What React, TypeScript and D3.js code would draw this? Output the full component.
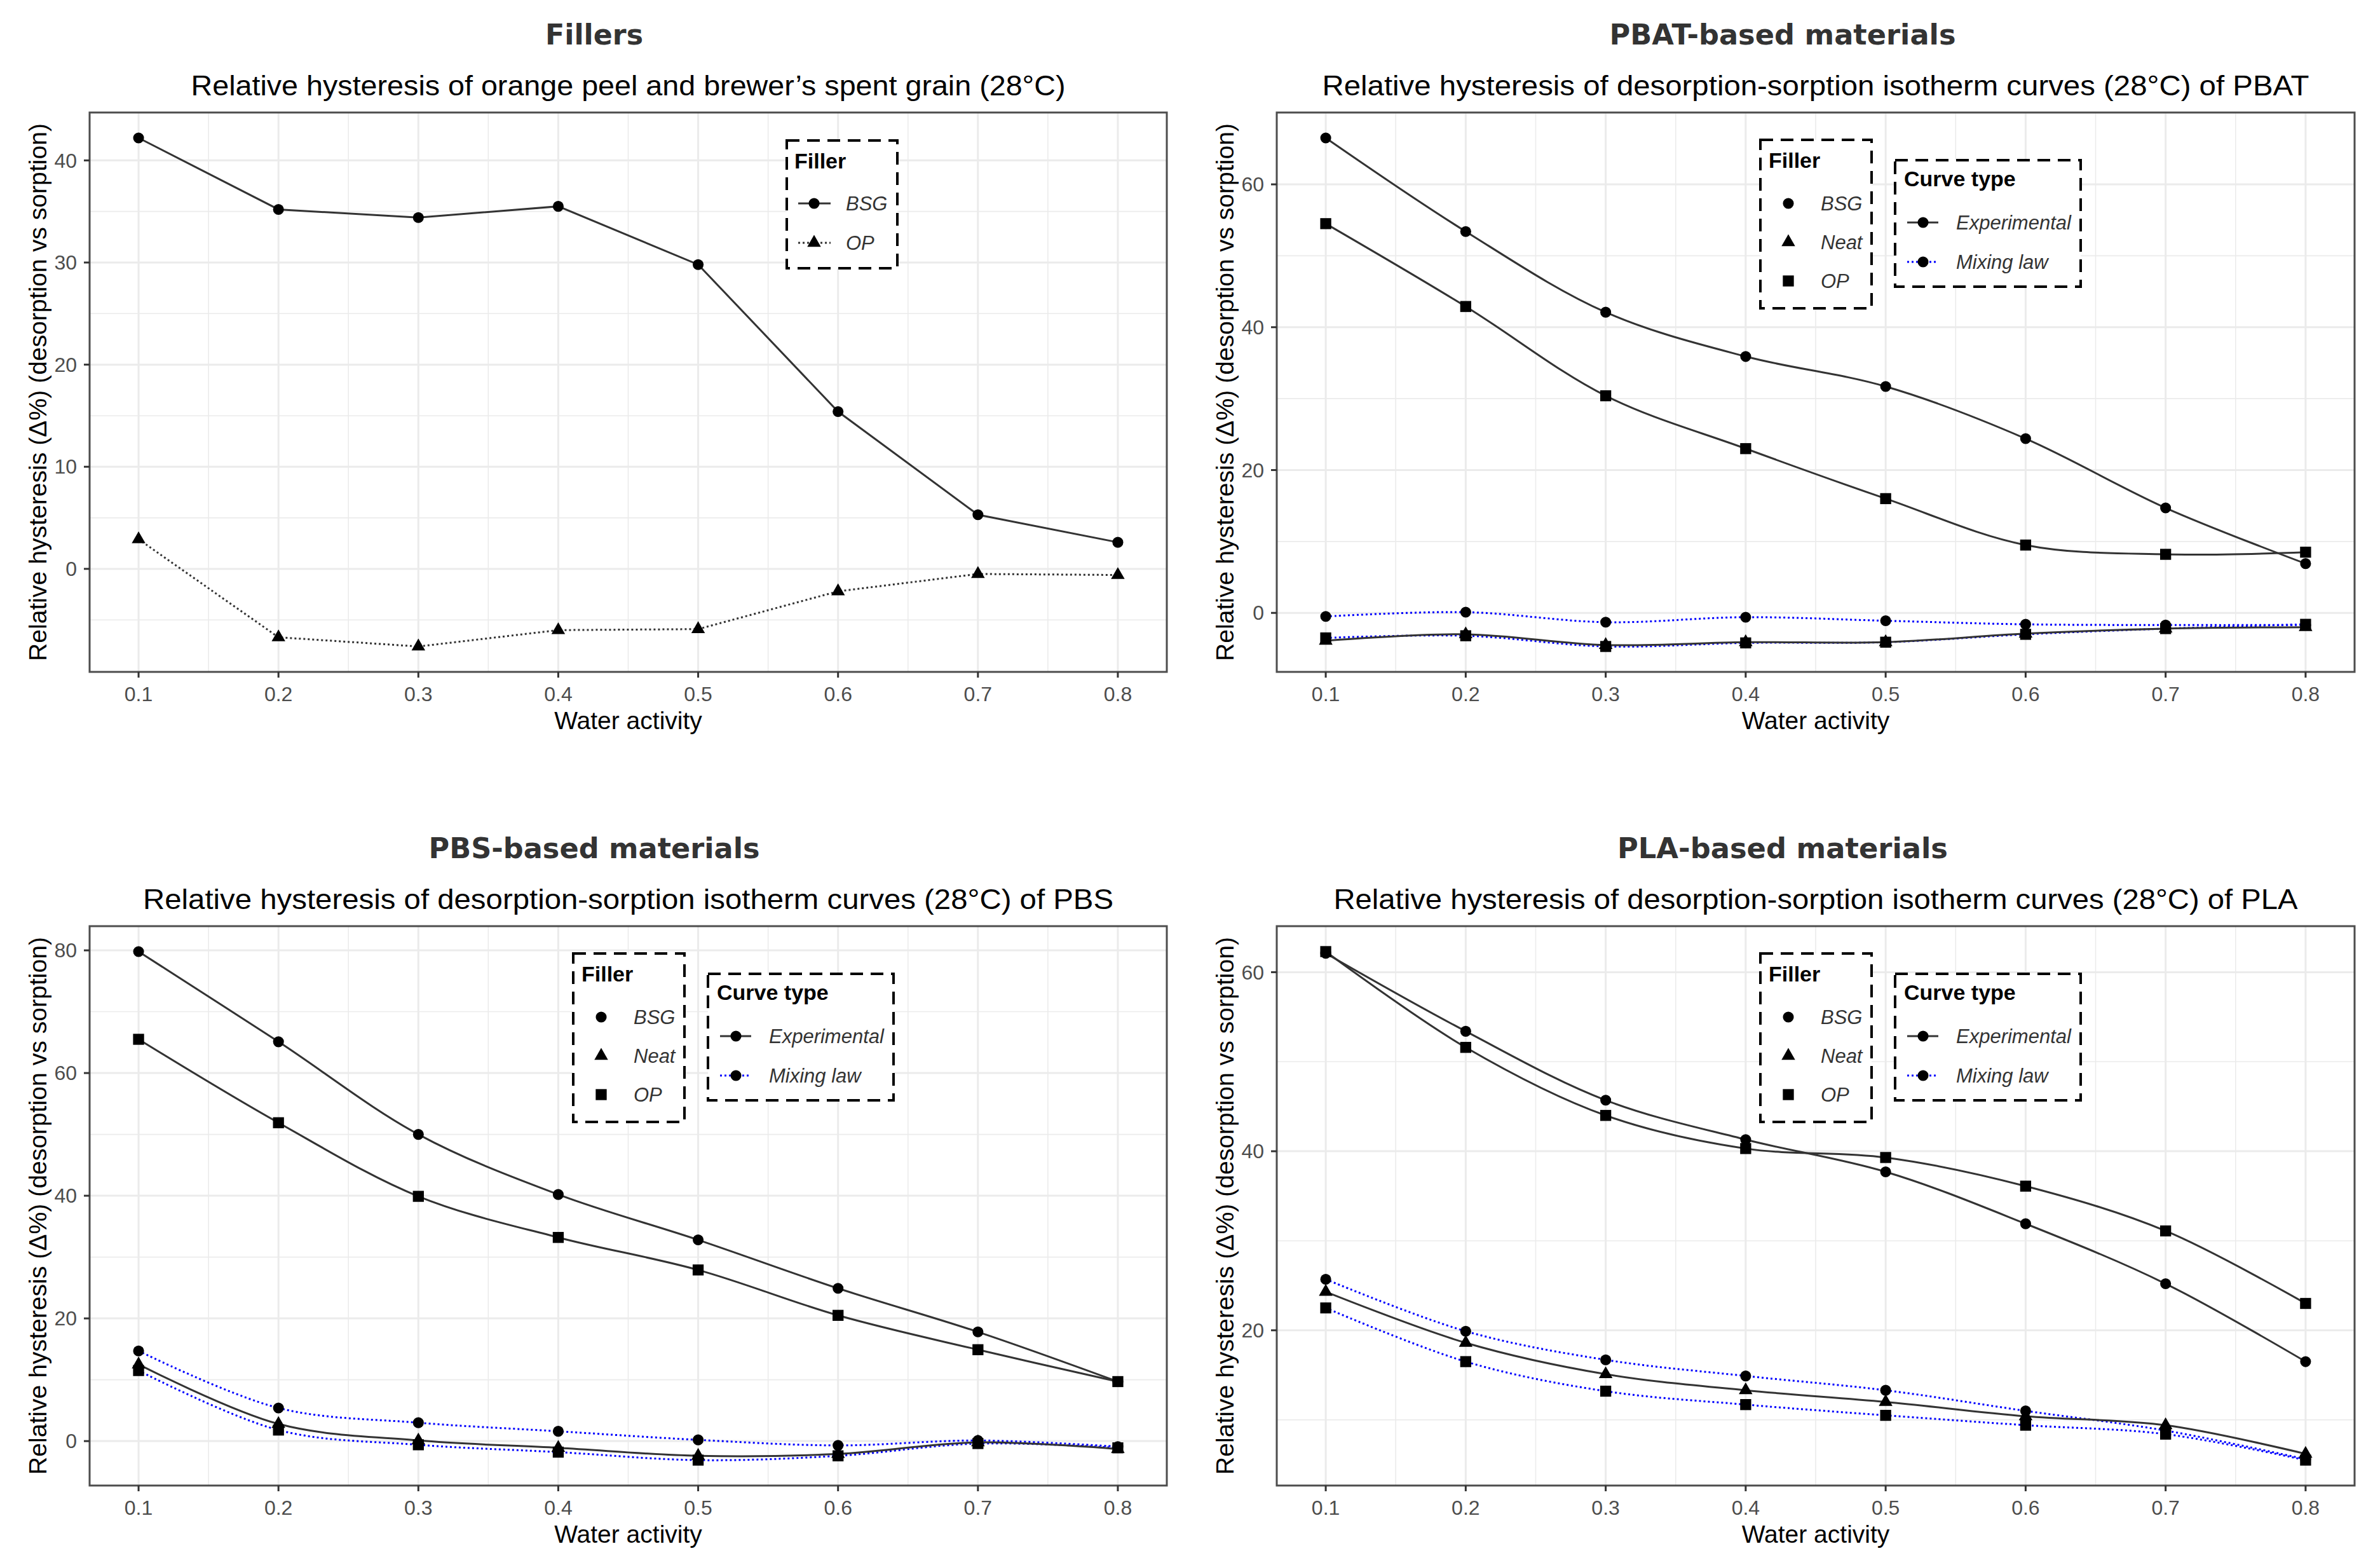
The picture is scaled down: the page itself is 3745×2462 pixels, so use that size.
import React from "react";
import * as d3 from "d3";

const width = 3745;
const height = 2462;

const waterActivity = [0.1, 0.2, 0.3, 0.4, 0.5, 0.6, 0.7, 0.8];

// Fillers (straight lines)
const fillersBSG = [42.2, 35.2, 34.4, 35.5, 29.8, 15.4, 5.3, 2.6];
const fillersOP = [2.9, -6.7, -7.6, -6.0, -5.9, -2.2, -0.5, -0.6];
const fillersTicks = [0, 10, 20, 30, 40];

// PBAT
const pbatBSGExp = [66.5, 53.4, 42.1, 35.9, 31.7, 24.4, 14.7, 6.9];
const pbatOPExp = [54.5, 42.9, 30.4, 23.0, 16.0, 9.5, 8.2, 8.5];
const pbatNeatExp = [-3.9, -3.0, -4.5, -4.1, -4.1, -2.9, -2.2, -2.0];
const pbatBSGMix = [-0.5, 0.1, -1.3, -0.6, -1.1, -1.6, -1.7, -1.7];
const pbatOPMix = [-3.5, -3.2, -4.7, -4.2, -4.1, -3.0, -2.2, -1.6];
const pbatTicks = [0, 20, 40, 60];

// PBS
const pbsBSGExp = [79.8, 65.1, 50.0, 40.2, 32.8, 24.9, 17.8, 9.7];
const pbsOPExp = [65.5, 51.9, 39.9, 33.2, 27.9, 20.5, 14.9, 9.7];
const pbsNeatExp = [12.5, 2.8, 0.1, -1.1, -2.4, -2.1, -0.2, -1.3];
const pbsBSGMix = [14.7, 5.4, 3.0, 1.6, 0.2, -0.7, 0.1, -0.9];
const pbsOPMix = [11.5, 1.8, -0.6, -1.8, -3.1, -2.4, -0.4, -1.1];
const pbsTicks = [0, 20, 40, 60, 80];

// PLA
const plaBSGExp = [62.1, 53.4, 45.7, 41.3, 37.7, 31.9, 25.2, 16.5];
const plaOPExp = [62.3, 51.6, 44.0, 40.3, 39.3, 36.1, 31.1, 23.0];
const plaNeatExp = [24.3, 18.6, 15.1, 13.3, 12.0, 10.4, 9.4, 6.2];
const plaBSGMix = [25.7, 19.9, 16.7, 14.9, 13.3, 11.0, 8.8, 5.6];
const plaOPMix = [22.5, 16.5, 13.2, 11.7, 10.5, 9.4, 8.4, 5.5];
const plaTicks = [20, 40, 60];

const fillerLevels = ["BSG", "Neat", "OP"];
const curveLevels = ["Experimental", "Mixing law"];

const FONT = "'Liberation Sans', Arial, sans-serif";
const TITLE_FONT = "'DejaVu Sans', 'Liberation Sans', sans-serif";

type Series = { filler: string; curve: string; values: number[] };

type PanelCfg = {
  col: number;
  row: number;
  title: string;
  subtitle: string;
  titleWidth: number;
  subtitleWidth: number;
  ticks: number[];
  series: Series[];
  smooth: boolean;
  fillersOnly?: boolean;
};

const shapeOf = (filler: string, fillersOnly?: boolean) => {
  if (filler === "BSG") return d3.symbolCircle;
  if (filler === "OP" && !fillersOnly) return d3.symbolSquare;
  return d3.symbolTriangle;
};
const sizeOf = (shape: d3.SymbolType) =>
  shape === d3.symbolCircle ? 230 : shape === d3.symbolSquare ? 300 : 200;

const symbolPath = (shape: d3.SymbolType) =>
  d3.symbol().type(shape).size(sizeOf(shape))() || "";

const lineStyle = (s: Series, fillersOnly?: boolean) => {
  if (s.curve === "Mixing law")
    return { stroke: "#0000ff", dash: "3,4" };
  if (fillersOnly && s.filler === "OP") return { stroke: "#333333", dash: "3,4" };
  return { stroke: "#333333", dash: undefined };
};

const panels: PanelCfg[] = [
  {
    col: 0,
    row: 0,
    title: "Fillers",
    subtitle: "Relative hysteresis of orange peel and brewer’s spent grain (28°C)",
    titleWidth: 154,
    subtitleWidth: 1376,
    ticks: fillersTicks,
    smooth: false,
    fillersOnly: true,
    series: [
      { filler: "BSG", curve: "Experimental", values: fillersBSG },
      { filler: "OP", curve: "Experimental", values: fillersOP },
    ],
  },
  {
    col: 1,
    row: 0,
    title: "PBAT-based materials",
    subtitle: "Relative hysteresis of desorption-sorption isotherm curves (28°C) of PBAT",
    titleWidth: 545,
    subtitleWidth: 1553,
    ticks: pbatTicks,
    smooth: true,
    series: [
      { filler: "BSG", curve: "Mixing law", values: pbatBSGMix },
      { filler: "OP", curve: "Mixing law", values: pbatOPMix },
      { filler: "BSG", curve: "Experimental", values: pbatBSGExp },
      { filler: "OP", curve: "Experimental", values: pbatOPExp },
      { filler: "Neat", curve: "Experimental", values: pbatNeatExp },
    ],
  },
  {
    col: 0,
    row: 1,
    title: "PBS-based materials",
    subtitle: "Relative hysteresis of desorption-sorption isotherm curves (28°C) of PBS",
    titleWidth: 521,
    subtitleWidth: 1527,
    ticks: pbsTicks,
    smooth: true,
    series: [
      { filler: "BSG", curve: "Mixing law", values: pbsBSGMix },
      { filler: "OP", curve: "Mixing law", values: pbsOPMix },
      { filler: "BSG", curve: "Experimental", values: pbsBSGExp },
      { filler: "OP", curve: "Experimental", values: pbsOPExp },
      { filler: "Neat", curve: "Experimental", values: pbsNeatExp },
    ],
  },
  {
    col: 1,
    row: 1,
    title: "PLA-based materials",
    subtitle: "Relative hysteresis of desorption-sorption isotherm curves (28°C) of PLA",
    titleWidth: 520,
    subtitleWidth: 1517,
    ticks: plaTicks,
    smooth: true,
    series: [
      { filler: "BSG", curve: "Mixing law", values: plaBSGMix },
      { filler: "OP", curve: "Mixing law", values: plaOPMix },
      { filler: "BSG", curve: "Experimental", values: plaBSGExp },
      { filler: "OP", curve: "Experimental", values: plaOPExp },
      { filler: "Neat", curve: "Experimental", values: plaNeatExp },
    ],
  },
];

const DashedBox = ({ x0, y0, x1, y1 }: { x0: number; y0: number; x1: number; y1: number }) => (
  <rect
    x={x0}
    y={y0}
    width={x1 - x0}
    height={y1 - y0}
    fill="white"
    stroke="black"
    strokeWidth={4}
    strokeDasharray="20,12"
  />
);

const Panel = ({ cfg }: { cfg: PanelCfg }) => {
  const left = cfg.col ? 2009 : 141;
  const right = cfg.col ? 3705 : 1836;
  const top = cfg.row ? 1457 : 177;
  const bottom = top + 880;

  const all = cfg.series.flatMap((s) => s.values);
  const [mn, mx] = d3.extent(all) as [number, number];
  const pad = (mx - mn) * 0.05;
  const y = d3.scaleLinear().domain([mn - pad, mx + pad]).range([bottom, top]);

  const [xa, xb] = d3.extent(waterActivity) as [number, number];
  const xpad = (xb - xa) * 0.05;
  const x = d3.scaleLinear().domain([xa - xpad, xb + xpad]).range([left, right]);

  const step = cfg.ticks[1] - cfg.ticks[0];
  const yMinor = [cfg.ticks[0] - step / 2, ...cfg.ticks.map((t) => t + step / 2)].filter(
    (v) => v > y.domain()[0] && v < y.domain()[1]
  );
  const xMinor = [waterActivity[0] - 0.05, ...waterActivity.map((v) => v + 0.05)].filter(
    (v) => v > x.domain()[0] && v < x.domain()[1]
  );

  const line = d3
    .line<number>()
    .x((_, i) => x(waterActivity[i]))
    .y((d) => y(d))
    .curve(cfg.smooth ? d3.curveCatmullRom.alpha(0.5) : d3.curveLinear);

  const cx = (left + right) / 2;
  const cy = (top + bottom) / 2;
  const panelCenter = cfg.col ? 2805 : 935;

  return (
    <g>
      {/* titles */}
      <text
        x={panelCenter}
        y={top - 107}
        textAnchor="middle"
        fontFamily={TITLE_FONT}
        fontWeight="bold"
        fontSize={44}
        fill="#333333"
        textLength={cfg.titleWidth}
        lengthAdjust="spacingAndGlyphs"
      >
        {cfg.title}
      </text>
      <text
        x={cx}
        y={top - 27}
        textAnchor="middle"
        fontFamily={FONT}
        fontSize={44}
        fill="black"
        textLength={cfg.subtitleWidth}
        lengthAdjust="spacingAndGlyphs"
      >
        {cfg.subtitle}
      </text>

      {/* grid */}
      {yMinor.map((v) => (
        <line key={"ym" + v} x1={left} x2={right} y1={y(v)} y2={y(v)} stroke="#EBEBEB" strokeWidth={1.6} />
      ))}
      {xMinor.map((v) => (
        <line key={"xm" + v} x1={x(v)} x2={x(v)} y1={top} y2={bottom} stroke="#EBEBEB" strokeWidth={1.6} />
      ))}
      {cfg.ticks.map((v) => (
        <line key={"yM" + v} x1={left} x2={right} y1={y(v)} y2={y(v)} stroke="#EBEBEB" strokeWidth={3} />
      ))}
      {waterActivity.map((v) => (
        <line key={"xM" + v} x1={x(v)} x2={x(v)} y1={top} y2={bottom} stroke="#EBEBEB" strokeWidth={3} />
      ))}

      {/* lines */}
      {cfg.series.map((s, i) => {
        const st = lineStyle(s, cfg.fillersOnly);
        return (
          <path
            key={"l" + i}
            d={line(s.values) || ""}
            fill="none"
            stroke={st.stroke}
            strokeWidth={3}
            strokeDasharray={st.dash}
          />
        );
      })}
      {/* points */}
      {cfg.series.map((s, i) =>
        s.values.map((v, j) => (
          <path
            key={"p" + i + "-" + j}
            d={symbolPath(shapeOf(s.filler, cfg.fillersOnly))}
            transform={`translate(${x(waterActivity[j])},${y(v)})`}
            fill="black"
          />
        ))
      )}

      {/* border */}
      <rect x={left} y={top} width={right - left} height={bottom - top} fill="none" stroke="#4d4d4d" strokeWidth={3} />

      {/* axes */}
      {waterActivity.map((v) => (
        <g key={"xt" + v}>
          <line x1={x(v)} x2={x(v)} y1={bottom} y2={bottom + 9} stroke="#333333" strokeWidth={3} />
          <text x={x(v)} y={bottom + 46} textAnchor="middle" fontFamily={FONT} fontSize={32} fill="#4D4D4D">
            {v.toFixed(1)}
          </text>
        </g>
      ))}
      {cfg.ticks.map((v) => (
        <g key={"yt" + v}>
          <line x1={left - 9} x2={left} y1={y(v)} y2={y(v)} stroke="#333333" strokeWidth={3} />
          <text
            x={left - 20}
            y={y(v)}
            dy="0.35em"
            textAnchor="end"
            fontFamily={FONT}
            fontSize={32}
            fill="#4D4D4D"
          >
            {v}
          </text>
        </g>
      ))}
      <text x={cx} y={bottom + 90} textAnchor="middle" fontFamily={FONT} fontSize={39} fill="black">
        Water activity
      </text>
      <text
        transform={`translate(${left - 68},${cy}) rotate(-90)`}
        textAnchor="middle"
        fontFamily={FONT}
        fontSize={39}
        fill="black"
        textLength={846}
        lengthAdjust="spacingAndGlyphs"
      >
        Relative hysteresis (Δ%) (desorption vs sorption)
      </text>

      {/* legends */}
      {cfg.fillersOnly ? (
        <g transform={`translate(${left},${top})`}>
          <DashedBox x0={1097} y0={44} x1={1271} y1={245} />
          <text x={1109} y={88} fontFamily={FONT} fontWeight="bold" fontSize={34} fill="black">
            Filler
          </text>
          {cfg.series.map((s, i) => {
            const st = lineStyle(s, true);
            const ly = 143 + i * 62;
            return (
              <g key={"lg" + i}>
                <line x1={1115} x2={1166} y1={ly} y2={ly} stroke={st.stroke} strokeWidth={3} strokeDasharray={st.dash} />
                <path d={symbolPath(shapeOf(s.filler, true))} transform={`translate(1140,${ly})`} fill="black" />
                <text x={1190} y={ly} dy="0.35em" fontFamily={FONT} fontStyle="italic" fontSize={31} fill="#333333">
                  {s.filler}
                </text>
              </g>
            );
          })}
        </g>
      ) : (
        <g transform={`translate(${left},${top})`}>
          <DashedBox x0={761} y0={43} x1={936} y1={308} />
          <text x={774} y={87} fontFamily={FONT} fontWeight="bold" fontSize={34} fill="black">
            Filler
          </text>
          {fillerLevels.map((f, i) => {
            const ly = 143 + i * 61;
            return (
              <g key={"fl" + f}>
                <path d={symbolPath(shapeOf(f))} transform={`translate(805,${ly})`} fill="black" />
                <text x={856} y={ly} dy="0.35em" fontFamily={FONT} fontStyle="italic" fontSize={31} fill="#333333">
                  {f}
                </text>
              </g>
            );
          })}
          <DashedBox x0={973} y0={75} x1={1265} y1={274} />
          <text x={987} y={116} fontFamily={FONT} fontWeight="bold" fontSize={34} fill="black">
            Curve type
          </text>
          {curveLevels.map((c, i) => {
            const ly = 173 + i * 62;
            const st = lineStyle({ filler: "BSG", curve: c, values: [] });
            return (
              <g key={"cl" + c}>
                <line x1={992} x2={1041} y1={ly} y2={ly} stroke={st.stroke} strokeWidth={3} strokeDasharray={st.dash} />
                <path d={symbolPath(d3.symbolCircle)} transform={`translate(1017,${ly})`} fill="black" />
                <text x={1069} y={ly} dy="0.35em" fontFamily={FONT} fontStyle="italic" fontSize={31} fill="#333333">
                  {c}
                </text>
              </g>
            );
          })}
        </g>
      )}
    </g>
  );
};

export default function App() {
  return (
    <svg
      width={width}
      height={height}
      style={{ position: "absolute", left: 0, top: 0, background: "white" }}
    >
      <rect width={width} height={height} fill="white" />
      {panels.map((p, i) => (
        <Panel key={i} cfg={p} />
      ))}
    </svg>
  );
}
